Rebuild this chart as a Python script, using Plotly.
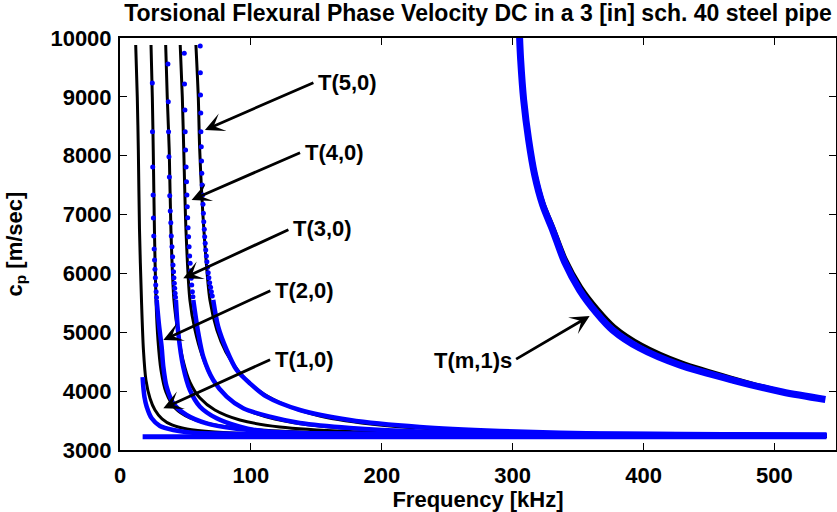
import plotly.graph_objects as go

# ---------------- data (frequency in kHz, phase velocity in m/s) ----------------
# black curves T(1,0) ... T(5,0)
t1_black_f = [12.0, 13.2, 14.0, 14.9, 16.4, 17.9, 19.8, 22.9, 26.7, 32.1, 39.7, 51.1, 72.5, 114.5, 198.5, 540]
t1_black_cp = [9880, 9000, 8100, 6740, 5550, 4700, 4190, 3880, 3680, 3530, 3425, 3357, 3306, 3263, 3238, 3225]
t2_black_f = [23.7, 24.7, 25.4, 26.3, 27.5, 29.0, 31.3, 35.1, 42.0, 53.4, 72.5, 106.9, 160.3, 251.9, 540]
t2_black_cp = [9881, 8998, 8097, 6738, 5549, 4869, 4359, 3985, 3714, 3544, 3425, 3340, 3289, 3255, 3238]
t3_black_f = [34.9, 36.1, 37.6, 38.9, 41.2, 44.3, 48.1, 53.4, 61.1, 72.5, 91.6, 122.1, 175.6, 274.8, 540]
t3_black_cp = [9881, 8998, 8097, 6738, 5549, 4988, 4529, 4155, 3883, 3680, 3510, 3391, 3314, 3272, 3238]
t4_black_f = [46.0, 47.6, 48.7, 50.4, 53.4, 57.3, 62.6, 70.2, 80.9, 95.4, 118.3, 152.7, 213.7, 328.2, 540]
t4_black_cp = [9881, 8998, 8097, 6738, 5549, 5039, 4614, 4223, 3917, 3697, 3527, 3408, 3323, 3272, 3238]
t5_black_f = [58.0, 59.8, 60.9, 64.1, 68.7, 74.0, 80.9, 91.6, 105.3, 126.0, 152.7, 198.5, 267.2, 366.4, 540]
t5_black_cp = [9881, 8998, 8097, 6738, 5549, 5039, 4665, 4308, 4019, 3765, 3578, 3425, 3331, 3280, 3246]

# blue curves: sparse computed points near cut-off, then dense part
t1_blue_f = [17.3, 17.8, 18.7, 20.4, 24.2, 30.5, 40.7, 55.7, 76.3, 106.9, 213.7, 539.7]
t1_blue_cp = [4240, 4075, 3900, 3736, 3539, 3408, 3340, 3294, 3280, 3272, 3263, 3255]

t2_dots_f = [24.7, 24.8, 25.0, 25.3, 25.5, 25.8, 26.1, 26.4, 26.7, 27.0, 27.3, 27.6, 27.9]
t2_dots_cp = [9235, 8408, 7808, 7332, 6942, 6636, 6415, 6228, 6070, 5927, 5803, 5690, 5591]
t2_blue_f = [28.0, 29.8, 31.8, 33.1, 35.6, 40.7, 50.9, 66.2, 86.5, 114.5, 160.3, 251.9, 539.7]
t2_blue_cp = [5549, 5124, 4755, 4415, 4075, 3793, 3595, 3453, 3368, 3311, 3280, 3263, 3255]

t3_dots_f = [36.6, 36.9, 37.1, 37.4, 37.7, 38.0, 38.4, 38.8, 39.2, 39.7, 40.2, 40.5, 40.9, 41.2, 41.5, 41.8, 42.1, 42.4]
t3_dots_cp = [9558, 8918, 8408, 7983, 7638, 7321, 7061, 6862, 6636, 6454, 6284, 6143, 6029, 5927, 5832, 5747, 5662, 5594]
t3_blue_f = [42.7, 44.5, 48.3, 53.4, 61.1, 73.8, 91.6, 112.0, 152.7, 251.9, 539.7]
t3_blue_cp = [5549, 4988, 4415, 4019, 3736, 3539, 3396, 3311, 3280, 3263, 3255]

t4_dots_f = [49.1, 49.3, 49.6, 49.8, 50.1, 50.5, 50.8, 51.1, 51.4, 51.7, 52.0, 52.4, 52.8, 53.2, 53.6, 54.0, 54.4, 54.8, 55.3, 55.7]
t4_dots_cp = [9740, 9218, 8777, 8408, 8097, 7808, 7558, 7332, 7134, 6947, 6777, 6624, 6454, 6296, 6172, 6046, 5917, 5803, 5690, 5605]
t4_blue_f = [56.0, 59.8, 63.6, 71.2, 81.5, 94.1, 114.5, 137.4, 175.6, 229.0, 328.2, 539.7]
t4_blue_cp = [5549, 4988, 4585, 4189, 3906, 3708, 3566, 3459, 3374, 3314, 3280, 3255]

t5_dots_f = [61.3, 61.4, 61.5, 61.7, 61.8, 62.1, 62.3, 62.5, 62.8, 63.1, 63.4, 63.7, 64.0, 64.4, 64.7, 65.1, 65.5,
             66.0, 66.4, 66.9, 67.4, 67.9, 68.5, 69.2, 69.8, 70.5]
t5_dots_cp = [9864, 9410, 9031, 8726, 8408, 8153, 7910, 7701, 7502, 7332, 7174, 7022, 6879, 6750, 6624, 6512, 6398,
              6296, 6199, 6104, 6012, 5927, 5842, 5764, 5690, 5617]
t5_blue_f = [71.2, 75.0, 81.5, 89.1, 99.2, 112.0, 137.4, 175.6, 229.0, 290.1, 366.4, 539.7]
t5_blue_cp = [5549, 5095, 4699, 4359, 4133, 3906, 3680, 3510, 3391, 3323, 3280, 3255]

# flat shear-velocity branch
flat_f = [17.3, 539.7]
flat_cp = [3225, 3225]

# T(m,1)s bundle
tm1_blue_f = [305.0, 305.3, 306.1, 308.4, 312.2, 316.8, 322.9, 330.5, 339.7, 351.1, 364.1, 376.3, 397.0, 427.5, 467.9, 506.1, 538.9]
tm1_blue_cp = [10220, 10000, 9626, 8947, 8267, 7672, 7163, 6738, 6194, 5718, 5328, 5039, 4733, 4444, 4189, 3985, 3858]
tm1_black_f = [305.8, 308.9, 312.8, 317.5, 323.7, 331.4, 340.8, 352.4, 365.6, 378.0, 398.8, 429.2, 469.0, 506.5, 538.0]
tm1_black_cp = [10000, 8990, 8310, 7715, 7205, 6785, 6250, 5780, 5395, 5105, 4795, 4495, 4225, 4005, 3870]

# tick labels
x_ticks = [0, 100, 200, 300, 400, 500]
y_ticks = [3000, 4000, 5000, 6000, 7000, 8000, 9000, 10000]

# labels: text, arrow head (f, cp), arrow tail (f, cp)
label_text = ["T(5,0)", "T(4,0)", "T(3,0)", "T(2,0)", "T(1,0)", "T(m,1)s"]
head_f = [64.9, 54.7, 48.3, 33.1, 33.1, 358.8]
head_cp = [8437, 7248, 5917, 4869, 3708, 5277]
tail_f = [148.9, 138.7, 129.8, 116.0, 115.8, 301.5]
tail_cp = [9252, 8063, 6755, 5718, 4546, 4529]

# ---------------- figure ----------------
BLUE = "#0000ff"
FONT = "Liberation Sans, Arial, Helvetica, sans-serif"
fig = go.Figure()

def line(f, cp, color, width):
    fig.add_trace(go.Scatter(x=f, y=cp, mode="lines",
                             line=dict(color=color, width=width, shape="spline", smoothing=0.8),
                             showlegend=False, hoverinfo="skip"))

def dots(f, cp):
    fig.add_trace(go.Scatter(x=f, y=cp, mode="markers",
                             marker=dict(color=BLUE, size=5, line=dict(width=0)),
                             showlegend=False, hoverinfo="skip"))

for f, cp in [(t1_black_f, t1_black_cp), (t2_black_f, t2_black_cp), (t3_black_f, t3_black_cp),
              (t4_black_f, t4_black_cp), (t5_black_f, t5_black_cp), (tm1_black_f, tm1_black_cp)]:
    line(f, cp, "black", 3)

line(flat_f, flat_cp, BLUE, 5)
line(t1_blue_f, t1_blue_cp, BLUE, 4.5)
for df, dcp, bf, bcp in [(t2_dots_f, t2_dots_cp, t2_blue_f, t2_blue_cp),
                         (t3_dots_f, t3_dots_cp, t3_blue_f, t3_blue_cp),
                         (t4_dots_f, t4_dots_cp, t4_blue_f, t4_blue_cp),
                         (t5_dots_f, t5_dots_cp, t5_blue_f, t5_blue_cp)]:
    dots(df, dcp)
    line(bf, bcp, BLUE, 4.5)
line(tm1_blue_f, tm1_blue_cp, BLUE, 7)

annotations = []
for i, txt in enumerate(label_text):
    annotations.append(dict(x=head_f[i], y=head_cp[i], ax=tail_f[i], ay=tail_cp[i],
                            xref="x", yref="y", axref="x", ayref="y", text="",
                            showarrow=True, arrowhead=3, arrowsize=1.15, arrowwidth=2.8,
                            arrowcolor="black"))
    is_right = txt == "T(m,1)s"
    annotations.append(dict(x=tail_f[i], y=tail_cp[i], xref="x", yref="y", text=txt,
                            showarrow=False, xanchor="right" if is_right else "left",
                            yanchor="middle", xshift=-1 if is_right else 1,
                            font=dict(family=FONT, size=22, color="black", weight="bold")))

fig.update_layout(
    width=837, height=512,
    margin=dict(l=120, r=1, t=38, b=62),
    paper_bgcolor="white", plot_bgcolor="white",
    title=dict(text="Torsional Flexural Phase Velocity DC in a 3 [in] sch. 40 steel pipe",
               x=0.5, xanchor="center", xref="paper", y=1 - 13 / 512, yref="container", yanchor="middle",
               font=dict(family=FONT, size=23, color="black", weight="bold")),
    annotations=annotations,
)
fig.update_xaxes(range=[0, 547], tickvals=x_ticks, ticktext=[str(v) for v in x_ticks], automargin=False,
                 showgrid=False, zeroline=False, showline=True, linecolor="black", linewidth=2,
                 mirror="ticks", ticks="inside", ticklen=7, tickwidth=1, tickcolor="black",
                 ticklabelstandoff=5,
                 tickfont=dict(family=FONT, size=22, color="black", weight="bold"),
                 title=dict(text="Frequency [kHz]", standoff=0,
                            font=dict(family=FONT, size=22, color="black", weight="bold")))
fig.update_yaxes(range=[3000, 10000], tickvals=y_ticks, ticktext=[str(v) for v in y_ticks], automargin=False,
                 showgrid=False, zeroline=False, showline=True, linecolor="black", linewidth=2,
                 mirror="ticks", ticks="inside", ticklen=7, tickwidth=1, tickcolor="black",
                 ticklabelstandoff=2,
                 tickfont=dict(family=FONT, size=22, color="black", weight="bold"),
                 title=dict(text="c<sub>p</sub> [m/sec]", standoff=22,
                            font=dict(family=FONT, size=22, color="black", weight="bold")))

fig.write_html("out.html", config={"displayModeBar": False},
               post_script="document.body.style.margin='0';document.body.style.overflow='hidden';")
